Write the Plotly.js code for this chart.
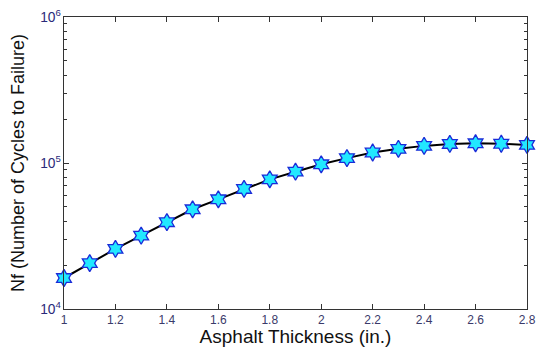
<!DOCTYPE html>
<html><head><meta charset="utf-8">
<script src="https://cdn.plot.ly/plotly-3.0.1.min.js"></script>
<style>html,body{margin:0;padding:0;background:#fff}#c{width:545px;height:347px}</style>
</head><body><div id="c"></div>
<script>
const thickness = [1.0,1.1,1.2,1.3,1.4,1.5,1.6,1.7,1.8,1.9,2.0,2.1,2.2,2.3,2.4,2.5,2.6,2.7,2.8];
const cycles = [16300,20600,25800,31800,39300,48200,56400,66400,77300,87200,98000,108000,118000,125000,131000,135000,136500,135500,133000];
const xTicks = [1,1.2,1.4,1.6,1.8,2,2.2,2.4,2.6,2.8];
const xTickText = ['1','1.2','1.4','1.6','1.8','2','2.2','2.4','2.6','2.8'];

Plotly.newPlot('c', [{
  x: thickness, y: cycles, type: 'scatter', mode: 'lines+markers',
  line: {color: '#000000', width: 2},
  marker: {symbol: 'hexagram', size: 13, color: '#22e8ff', line: {color: '#1a2bd8', width: 1.3}},
  cliponaxis: false
}], {
  width: 545, height: 347,
  margin: {l: 64, r: 18, t: 17, b: 38},
  paper_bgcolor: '#ffffff', plot_bgcolor: '#ffffff',
  showlegend: false,
  font: {family: 'Liberation Sans, Arial, sans-serif'},
  xaxis: {
    range: [1, 2.8], tickvals: xTicks, ticktext: xTickText,
    ticks: 'inside', ticklen: 5, tickcolor: '#333', showgrid: false, zeroline: false,
    showline: true, linecolor: '#333', linewidth: 1, mirror: 'ticks',
    tickfont: {size: 12, color: '#3a3a6a'},
    title: {text: 'Asphalt Thickness (in.)', font: {size: 19, color: '#111'}, standoff: 0}
  },
  yaxis: {
    type: 'log', range: [4, 6], dtick: 1, exponentformat: 'power',
    ticks: 'inside', ticklen: 5, tickcolor: '#333', showgrid: false, zeroline: false,
    showline: true, linecolor: '#333', linewidth: 1, mirror: 'ticks',
    tickfont: {size: 11, color: '#2a2a7a'},
    minor: {ticks: 'inside', ticklen: 3, tickcolor: '#333', dtick: 'D1', showgrid: false},
    title: {text: 'Nf (Number of Cycles to Failure)', font: {size: 18, color: '#111'}, standoff: 10}
  }
}, {displayModeBar: false, staticPlot: true});
</script></body></html>
